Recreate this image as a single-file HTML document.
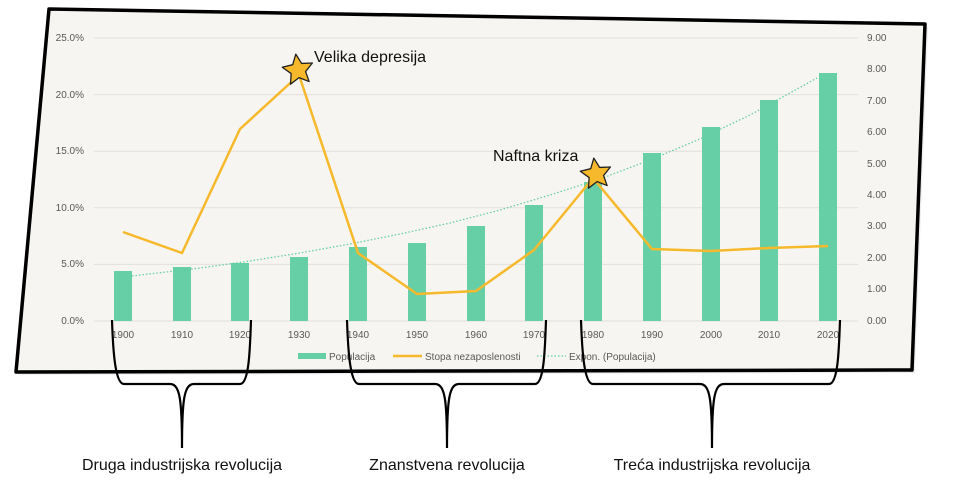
<!DOCTYPE html>
<html><head><meta charset="utf-8"><style>
html,body{margin:0;padding:0;background:#fff;}
svg{display:block;font-family:"Liberation Sans",sans-serif;}
</style></head><body>
<svg width="954" height="490" viewBox="0 0 954 490" xmlns="http://www.w3.org/2000/svg">
<polygon points="52,12 928,27 915,373 19,375" fill="#ddd" opacity="0.5"/>
<polygon points="49,9 925,24 912,370 16,372" fill="#f7f5f1" stroke="#000" stroke-width="3.5" stroke-linejoin="round"/>
<g stroke="#e2e0dc" stroke-width="1">
<line x1="94" y1="38" x2="858" y2="38"/><line x1="94" y1="94.6" x2="858" y2="94.6"/>
<line x1="94" y1="151.2" x2="858" y2="151.2"/><line x1="94" y1="207.8" x2="858" y2="207.8"/>
<line x1="94" y1="264.4" x2="858" y2="264.4"/><line x1="94" y1="321" x2="858" y2="321"/>
</g>
<g font-size="10" fill="#595959" text-anchor="end">
<text x="84" y="41">25.0%</text><text x="84" y="98">20.0%</text><text x="84" y="154">15.0%</text>
<text x="84" y="211">10.0%</text><text x="84" y="267">5.0%</text><text x="84" y="324">0.0%</text>
</g>
<g font-size="10" fill="#595959">
<text x="867" y="41">9.00</text><text x="867" y="72">8.00</text><text x="867" y="104">7.00</text>
<text x="867" y="135">6.00</text><text x="867" y="167">5.00</text><text x="867" y="198">4.00</text>
<text x="867" y="229">3.00</text><text x="867" y="261">2.00</text><text x="867" y="292">1.00</text><text x="867" y="324">0.00</text>
</g>
<g fill="#66cfa6">
<rect x="114" y="271" width="18" height="50"/><rect x="173" y="267" width="18" height="54"/>
<rect x="231" y="263" width="18" height="58"/><rect x="290" y="257" width="18" height="64"/>
<rect x="349" y="247" width="18" height="74"/><rect x="408" y="243" width="18" height="78"/>
<rect x="467" y="226" width="18" height="95"/><rect x="525" y="205" width="18" height="116"/>
<rect x="584" y="182" width="18" height="139"/><rect x="643" y="153" width="18" height="168"/>
<rect x="702" y="127" width="18" height="194"/><rect x="760" y="100" width="18" height="221"/>
<rect x="819" y="73" width="18" height="248"/>
</g>
<polyline points="132,276 200,268 250,261 300,253 350,244 400,234 450,223 500,210 550,195 600,179 650,160 700,139 750,115 817,78" fill="none" stroke="#66cfa6" stroke-width="1.3" stroke-dasharray="1.5,2"/>
<polyline points="123,232 182,253 240,129 299,75 358,253 417,294 476,291 534,250 593,178 652,249 711,251 769,248 828,246" fill="none" stroke="#f6b92b" stroke-width="2.5" stroke-linejoin="round"/>
<g font-size="10" fill="#595959" text-anchor="middle">
<text x="123" y="338">1900</text><text x="182" y="338">1910</text><text x="240" y="338">1920</text>
<text x="299" y="338">1930</text><text x="358" y="338">1940</text><text x="417" y="338">1950</text>
<text x="476" y="338">1960</text><text x="534" y="338">1970</text><text x="593" y="338">1980</text>
<text x="652" y="338">1990</text><text x="711" y="338">2000</text><text x="769" y="338">2010</text>
<text x="828" y="338">2020</text>
</g>
<rect x="298" y="353" width="28" height="6" fill="#66cfa6"/>
<text x="329" y="360" font-size="10" fill="#595959">Populacija</text>
<line x1="393" y1="356" x2="422" y2="356" stroke="#f6b92b" stroke-width="2.5"/>
<text x="425" y="360" font-size="10" fill="#595959">Stopa nezaposlenosti</text>
<line x1="537" y1="356" x2="566" y2="356" stroke="#66cfa6" stroke-width="1.3" stroke-dasharray="1.5,2"/>
<text x="569" y="360" font-size="10" fill="#595959">Expon. (Populacija)</text>
<g fill="#f6b92b" stroke="#222" stroke-width="1.3" stroke-linejoin="round">
<polygon transform="translate(298,70) rotate(-8)" points="0,-16 4.5,-6 15.2,-4.9 7.3,2.6 9.4,13 0,7.7 -9.4,13 -7.3,2.6 -15.2,-4.9 -4.5,-6"/>
<polygon transform="translate(596,174) rotate(-8)" points="0,-16 4.5,-6 15.2,-4.9 7.3,2.6 9.4,13 0,7.7 -9.4,13 -7.3,2.6 -15.2,-4.9 -4.5,-6"/>
</g>
<text x="314" y="62" font-size="16" fill="#111">Velika depresija</text>
<text x="493" y="161" font-size="16" fill="#111">Naftna kriza</text>
<g fill="none" stroke="#000" stroke-width="2.2">
<path d="M112,320 C113,350 115,384 124,384 L170,384 C180,384 182,400 182,448 C182,400 184,384 194,384 L240,384 C249,384 250,350 251,320"/>
<path d="M347,320 C348,350 350,384 359,384 L435,384 C445,384 447,400 447,448 C447,400 449,384 459,384 L535,384 C544,384 545,350 546,320"/>
<path d="M581,320 C582,350 584,384 593,384 L700,384 C710,384 712,400 712,448 C712,400 714,384 724,384 L829,384 C838,384 839,350 840,320"/>
</g>
<g font-size="16" fill="#111" text-anchor="middle">
<text x="182" y="470">Druga industrijska revolucija</text>
<text x="447" y="470">Znanstvena revolucija</text>
<text x="712" y="470">Treća industrijska revolucija</text>
</g>
</svg>
</body></html>
